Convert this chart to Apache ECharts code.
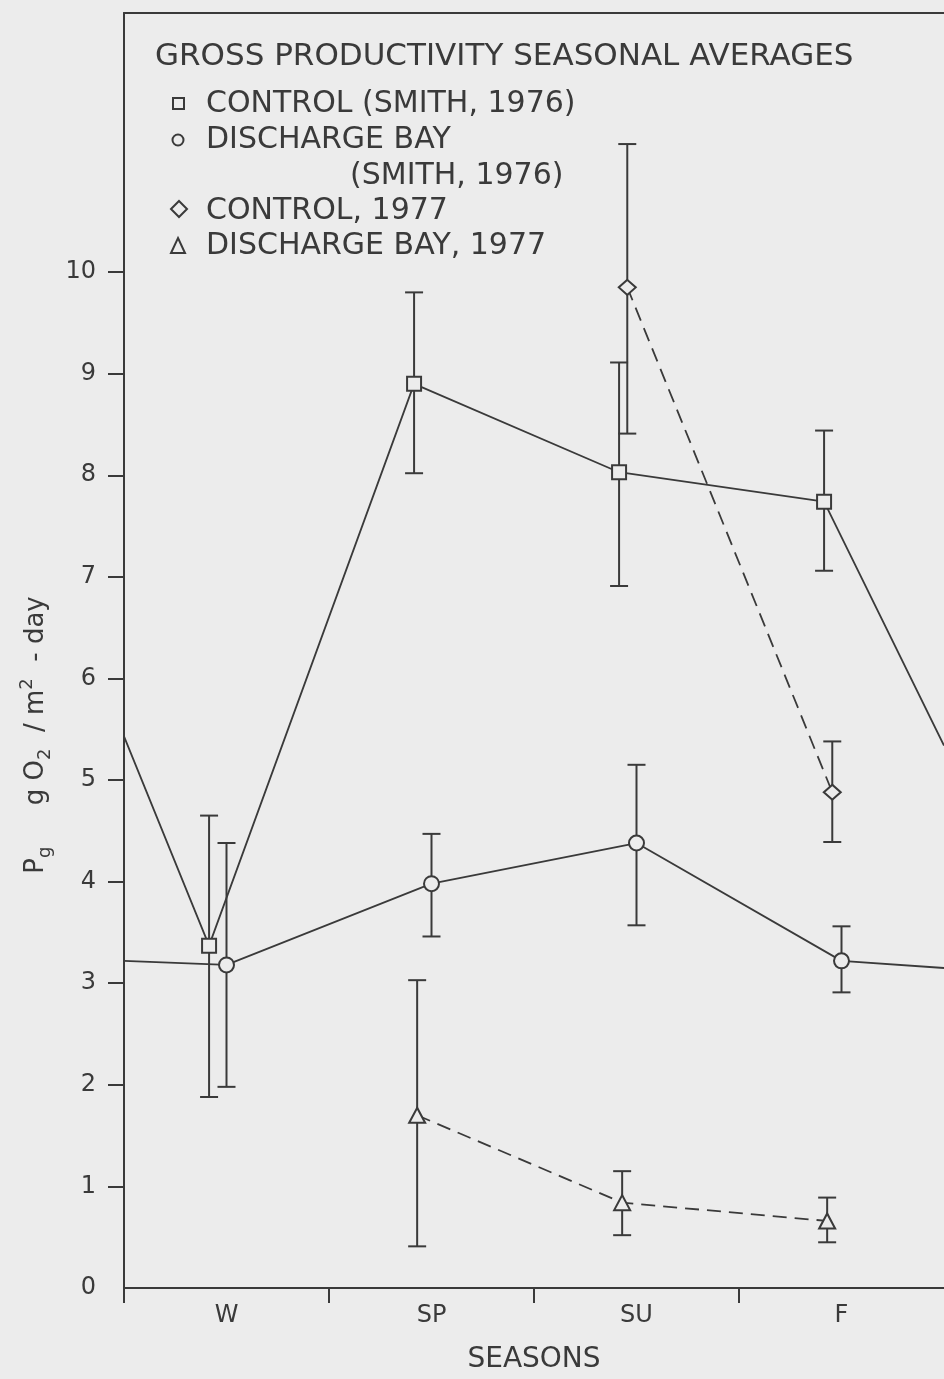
<!DOCTYPE html>
<html><head><meta charset="utf-8">
<script src="https://cdn.jsdelivr.net/npm/echarts@6/dist/echarts.min.js"></script>
<style>html,body{margin:0;padding:0;background:#ececec;overflow:hidden}#c{width:944px;height:1379px}</style>
</head><body><div id="c"></div>
<script>
// ---- data ----
const seasons = ['W', 'SP', 'SU', 'F'];
const yTickValues = [0, 1, 2, 3, 4, 5, 6, 7, 8, 9, 10];
const xBoundaryTicks = [0, 1, 2, 3];

// Control (Smith, 1976)
const controlSmith = [3.37, 8.90, 8.03, 7.74];
const controlSmithLow = [1.88, 8.02, 6.91, 7.06];
const controlSmithHigh = [4.65, 9.80, 9.11, 8.44];
const controlSmithEdges = [5.43, 5.34];      // line values where it leaves the frame (left, right)

// Discharge Bay (Smith, 1976)
const dischargeSmith = [3.18, 3.98, 4.38, 3.22];
const dischargeSmithLow = [1.98, 3.46, 3.57, 2.91];
const dischargeSmithHigh = [4.38, 4.47, 5.15, 3.56];
const dischargeSmithEdges = [3.22, 3.15];

// Control, 1977
const control1977 = [null, null, 9.85, 4.88];
const control1977Low = [null, null, 8.41, 4.39];
const control1977High = [null, null, 11.26, 5.38];

// Discharge Bay, 1977
const discharge1977 = [null, 1.70, 0.84, 0.66];
const discharge1977Low = [null, 0.41, 0.52, 0.45];
const discharge1977High = [null, 3.03, 1.15, 0.89];

// ---- styling ----
const INK = '#3a3a3a';
const BG = '#ececec';
const FONT = 'DejaVu Sans';

function linePoints(vals, off, edges) {
  const pts = [];
  if (edges) pts.push({ value: [0, edges[0]], symbol: 'none' });
  vals.forEach((v, i) => { if (v != null) pts.push([i + 0.5 + off, v]); });
  if (edges) pts.push({ value: [seasons.length, edges[1]], symbol: 'none' });
  return pts;
}
function barPoints(lo, hi, off) {
  const out = [];
  lo.forEach((l, i) => { if (l != null) out.push([i + 0.5 + off, l, hi[i]]); });
  return out;
}
function errSeries(data) {
  return {
    type: 'custom', z: 1, data, silent: true,
    encode: { x: 0, y: [1, 2] },
    renderItem(params, api) {
      const x = api.value(0);
      const lo = api.coord([x, api.value(1)]);
      const hi = api.coord([x, api.value(2)]);
      const cap = 9;
      const st = { stroke: INK, lineWidth: 2 };
      return { type: 'group', children: [
        { type: 'line', shape: { x1: lo[0], y1: lo[1], x2: hi[0], y2: hi[1] }, style: st },
        { type: 'line', shape: { x1: lo[0] - cap, y1: lo[1], x2: lo[0] + cap, y2: lo[1] }, style: st },
        { type: 'line', shape: { x1: hi[0] - cap, y1: hi[1], x2: hi[0] + cap, y2: hi[1] }, style: st }
      ] };
    }
  };
}
function lineSeries(name, data, symbol, size, dashed) {
  return {
    type: 'line', name, data, z: 3, symbol, symbolSize: size, showSymbol: true, clip: false,
    lineStyle: { color: INK, width: 1.8, type: dashed ? [14, 8] : 'solid' },
    itemStyle: { color: BG, borderColor: INK, borderWidth: 2 },
    emphasis: { disabled: true }
  };
}

const offs = { cs: -0.085, ds: 0.0, c7: -0.045, d7: -0.07 };
const LEG = '30px "DejaVu Sans"';

const chart = echarts.init(document.getElementById('c'), null, { renderer: 'canvas' });
chart.setOption({
  animation: false,
  backgroundColor: BG,
  textStyle: { fontFamily: FONT, color: INK },
  grid: { left: 124, width: 827, top: 13, height: 1280, show: false },
  xAxis: [{
    type: 'value', min: 0, max: 4, interval: 1,
    axisLine: { show: true, lineStyle: { color: INK, width: 2 } },
    axisTick: { show: true, customValues: xBoundaryTicks, length: 15, lineStyle: { color: INK, width: 2 } },
    axisLabel: { customValues: seasons.map((s, i) => i + 0.5), formatter: v => seasons[Math.floor(v)], fontSize: 24, margin: 16, color: INK, fontFamily: FONT },
    splitLine: { show: false },
    name: 'SEASONS', nameLocation: 'middle', nameGap: 58,
    nameTextStyle: { fontSize: 28, color: INK, fontFamily: FONT }
  }, {
    type: 'value', min: 0, max: 4, position: 'top',
    axisLine: { show: true, lineStyle: { color: INK, width: 2 } },
    axisTick: { show: false }, axisLabel: { show: false }, splitLine: { show: false }
  }],
  yAxis: {
    type: 'value', min: 0, max: 12.55, interval: 1,
    axisLine: { show: true, lineStyle: { color: INK, width: 2 } },
    axisTick: { show: true, customValues: yTickValues.filter(v => v > 0), length: 16, lineStyle: { color: INK, width: 2 } },
    axisLabel: { customValues: yTickValues, fontSize: 24, margin: 28, color: INK, fontFamily: FONT },
    splitLine: { show: false }
  },
  graphic: [
    { type: 'text', x: 36, y: 735, rotation: Math.PI / 2, style: {
      text: '{m|P}{s|g}{m|     g O}{s|2}{m|  / m}{p|2}{m|  - day}',
      align: 'center', verticalAlign: 'middle', fill: INK,
      rich: {
        m: { fontSize: 26, fontFamily: FONT, fill: INK, lineHeight: 36, verticalAlign: 'middle' },
        s: { fontSize: 18, fontFamily: FONT, fill: INK, lineHeight: 36, verticalAlign: 'bottom' },
        p: { fontSize: 18, fontFamily: FONT, fill: INK, lineHeight: 36, verticalAlign: 'top' }
      } } },
    { type: 'text', x: 155, y: 57, style: { text: 'GROSS PRODUCTIVITY SEASONAL AVERAGES', font: '31px "DejaVu Sans"', fill: INK, verticalAlign: 'middle' } },
    { type: 'rect', shape: { x: 173, y: 98, width: 11, height: 11 }, style: { fill: 'none', stroke: INK, lineWidth: 2 } },
    { type: 'text', x: 206, y: 104, style: { text: 'CONTROL (SMITH, 1976)', font: LEG, fill: INK, verticalAlign: 'middle' } },
    { type: 'circle', shape: { cx: 178, cy: 140, r: 5.5 }, style: { fill: 'none', stroke: INK, lineWidth: 2 } },
    { type: 'text', x: 206, y: 140, style: { text: 'DISCHARGE BAY', font: LEG, fill: INK, verticalAlign: 'middle' } },
    { type: 'text', x: 350, y: 176, style: { text: '(SMITH, 1976)', font: LEG, fill: INK, verticalAlign: 'middle' } },
    { type: 'polygon', shape: { points: [[179, 201], [187, 209], [179, 217], [171, 209]] }, style: { fill: 'none', stroke: INK, lineWidth: 2 } },
    { type: 'text', x: 206, y: 211, style: { text: 'CONTROL, 1977', font: LEG, fill: INK, verticalAlign: 'middle' } },
    { type: 'polygon', shape: { points: [[178, 238], [185, 253], [171, 253]] }, style: { fill: 'none', stroke: INK, lineWidth: 2 } },
    { type: 'text', x: 206, y: 246, style: { text: 'DISCHARGE BAY, 1977', font: LEG, fill: INK, verticalAlign: 'middle' } }
  ],
  series: [
    errSeries(barPoints(controlSmithLow, controlSmithHigh, offs.cs)),
    errSeries(barPoints(dischargeSmithLow, dischargeSmithHigh, offs.ds)),
    errSeries(barPoints(control1977Low, control1977High, offs.c7)),
    errSeries(barPoints(discharge1977Low, discharge1977High, offs.d7)),
    lineSeries('CONTROL (SMITH, 1976)', linePoints(controlSmith, offs.cs, controlSmithEdges), 'rect', 14, false),
    lineSeries('DISCHARGE BAY (SMITH, 1976)', linePoints(dischargeSmith, offs.ds, dischargeSmithEdges), 'circle', 15, false),
    lineSeries('CONTROL, 1977', linePoints(control1977, offs.c7, null), 'diamond', [17, 15], true),
    lineSeries('DISCHARGE BAY, 1977', linePoints(discharge1977, offs.d7, null), 'triangle', [16, 15], true)
  ]
});
</script>
</body></html>
